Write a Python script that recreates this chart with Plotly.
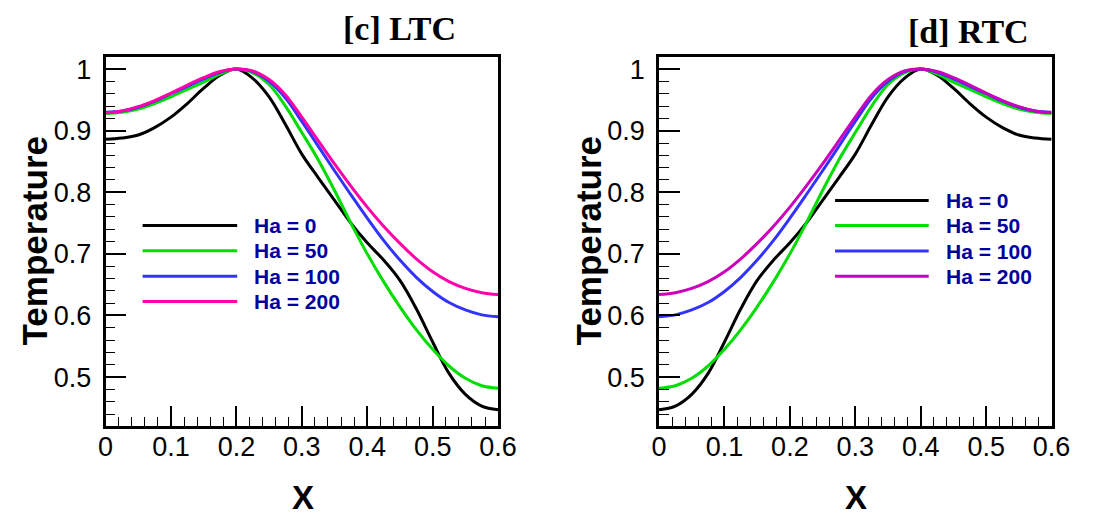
import plotly.graph_objects as go

# ---------------- data ----------------
x_vals = [0.0, 0.025, 0.05, 0.075, 0.1, 0.125, 0.15, 0.175, 0.2, 0.225, 0.25, 0.275,
          0.3, 0.325, 0.35, 0.375, 0.4, 0.425, 0.45, 0.475, 0.5, 0.525, 0.55, 0.575, 0.6]

# [c] LTC
ltc_ha0 = [0.886, 0.888, 0.893, 0.905, 0.922, 0.944, 0.969, 0.990, 1.000, 0.985, 0.955, 0.910,
           0.862, 0.824, 0.787, 0.750, 0.718, 0.690, 0.657, 0.611, 0.557, 0.506, 0.472, 0.453, 0.447]
ltc_ha50 = [0.928, 0.930, 0.935, 0.944, 0.955, 0.967, 0.979, 0.992, 1.000, 0.994, 0.975, 0.940,
            0.897, 0.853, 0.803, 0.750, 0.700, 0.655, 0.614, 0.577, 0.545, 0.518, 0.498, 0.486, 0.482]
ltc_ha100 = [0.930, 0.932, 0.938, 0.948, 0.960, 0.972, 0.984, 0.995, 1.000, 0.996, 0.980, 0.953,
             0.915, 0.875, 0.835, 0.796, 0.758, 0.722, 0.690, 0.662, 0.639, 0.621, 0.609, 0.601, 0.598]
ltc_ha200 = [0.929, 0.932, 0.939, 0.949, 0.961, 0.974, 0.986, 0.996, 1.000, 0.997, 0.983, 0.958,
             0.922, 0.884, 0.846, 0.810, 0.776, 0.745, 0.717, 0.692, 0.671, 0.655, 0.644, 0.637, 0.634]

# [d] RTC (mirror image of LTC about the centre of the cavity)
rtc_ha0 = [0.447, 0.453, 0.472, 0.506, 0.557, 0.611, 0.657, 0.690, 0.718, 0.750, 0.787, 0.824,
           0.862, 0.910, 0.955, 0.985, 1.000, 0.990, 0.969, 0.944, 0.922, 0.905, 0.893, 0.888, 0.886]
rtc_ha50 = [0.482, 0.486, 0.498, 0.518, 0.545, 0.577, 0.614, 0.655, 0.700, 0.750, 0.803, 0.853,
            0.897, 0.940, 0.975, 0.994, 1.000, 0.992, 0.979, 0.967, 0.955, 0.944, 0.935, 0.930, 0.928]
rtc_ha100 = [0.598, 0.601, 0.609, 0.621, 0.639, 0.662, 0.690, 0.722, 0.758, 0.796, 0.835, 0.875,
             0.915, 0.953, 0.980, 0.996, 1.000, 0.995, 0.984, 0.972, 0.960, 0.948, 0.938, 0.932, 0.930]
rtc_ha200 = [0.634, 0.637, 0.644, 0.655, 0.671, 0.692, 0.717, 0.745, 0.776, 0.810, 0.846, 0.884,
             0.922, 0.958, 0.983, 0.997, 1.000, 0.996, 0.986, 0.974, 0.961, 0.949, 0.939, 0.932, 0.929]

labels = ["Ha = 0", "Ha = 50", "Ha = 100", "Ha = 200"]
colors_ltc = ["#000000", "#00DD00", "#3333FF", "#FF00AA"]
colors_rtc = ["#000000", "#00DD00", "#3333FF", "#CC00BB"]

x_ticks = [0, 0.1, 0.2, 0.3, 0.4, 0.5, 0.6]
x_ticktext = ["0", "0.1", "0.2", "0.3", "0.4", "0.5", "0.6"]
y_ticks = [0.5, 0.6, 0.7, 0.8, 0.9, 1.0]
y_ticktext = ["0.5", "0.6", "0.7", "0.8", "0.9", "1"]

W, H = 1094, 519

fig = go.Figure()

panels = [
    ("x", "y", [ltc_ha0, ltc_ha50, ltc_ha100, ltc_ha200], colors_ltc),
    ("x2", "y2", [rtc_ha0, rtc_ha50, rtc_ha100, rtc_ha200], colors_rtc),
]
for xa, ya, series, cols in panels:
    for lab, ys, c in zip(labels, series, cols):
        fig.add_trace(go.Scatter(
            x=x_vals, y=ys, mode="lines", name=lab, xaxis=xa, yaxis=ya,
            line=dict(color=c, width=3, shape="spline", smoothing=1.0),
            showlegend=False, hoverinfo="skip"))

tick_font = dict(family="Liberation Sans, Arial", size=27, color="black")

def xaxis_cfg(domain):
    return dict(domain=domain, range=[0, 0.6], tickvals=x_ticks, ticktext=x_ticktext,
                ticks="inside", ticklen=21, tickwidth=2, tickcolor="black",
                minor=dict(dtick=0.02, tick0=0, ticks="inside", ticklen=10, tickwidth=1.3, tickcolor="black"),
                showline=True, mirror=True, linewidth=2.5, linecolor="black",
                showgrid=False, zeroline=False, tickfont=tick_font, ticklabelstandoff=-6,
                fixedrange=True)

def yaxis_cfg(domain, anchor):
    return dict(domain=domain, range=[0.42, 1.02], tickvals=y_ticks, ticktext=y_ticktext,
                ticks="inside", ticklen=21, tickwidth=2, tickcolor="black",
                minor=dict(dtick=0.02, tick0=0, ticks="inside", ticklen=10, tickwidth=1.3, tickcolor="black"),
                showline=True, mirror=True, linewidth=2.5, linecolor="black",
                showgrid=False, zeroline=False, tickfont=tick_font, ticklabelstandoff=6,
                anchor=anchor, fixedrange=True)

ydom = [1 - 426 / H, 1 - 55 / H]
fig.update_layout(
    width=W, height=H, margin=dict(l=0, r=0, t=0, b=0),
    paper_bgcolor="white", plot_bgcolor="white",
    xaxis=dict(**xaxis_cfg([100 / W, 502.5 / W]), anchor="y"),
    yaxis=yaxis_cfg(ydom, "x"),
    xaxis2=dict(**xaxis_cfg([667.5 / W, 1070 / W]), anchor="y2"),
    yaxis2=yaxis_cfg(ydom, "x2"),
)

annotations = []
shapes = []

def P(px, py):
    return px / W, 1 - py / H

# panel titles
for txt, cx, cy in [("[c] LTC", 401, 27), ("[d] RTC", 985, 30)]:
    ax_, ay_ = P(cx, cy)
    annotations.append(dict(text="<b>%s</b>" % txt, x=ax_, y=ay_, xref="paper", yref="paper",
                            showarrow=False, xanchor="center", yanchor="middle",
                            font=dict(family="Liberation Serif, Times New Roman", size=34, color="black")))
# axis titles
for cx in [27, 595]:
    ax_, ay_ = P(cx, 240)
    annotations.append(dict(text="<b>Temperature</b>", x=ax_, y=ay_, xref="paper", yref="paper",
                            showarrow=False, textangle=-90, xanchor="center", yanchor="middle",
                            font=dict(family="Liberation Sans, Arial", size=35, color="black")))
for cx in [302, 869]:
    ax_, ay_ = P(cx, 497)
    annotations.append(dict(text="<b>X</b>", x=ax_, y=ay_, xref="paper", yref="paper",
                            showarrow=False, xanchor="center", yanchor="middle",
                            font=dict(family="Liberation Sans, Arial", size=33, color="black")))

# custom legends
legend_specs = [
    (138, 235, 250.5, [224.3, 249.7, 275.3, 300.7], colors_ltc),
    (848, 944, 960, [199.3, 224.3, 250, 275.3], colors_rtc),
]
for lx0, lx1, tx, rows, cols in legend_specs:
    for lab, ry, c in zip(labels, rows, cols):
        x0, y0 = P(lx0, ry)
        x1, _ = P(lx1, ry)
        shapes.append(dict(type="line", xref="paper", yref="paper", x0=x0, x1=x1, y0=y0, y1=y0,
                           line=dict(color=c, width=3)))
        tx_, ty_ = P(tx, ry)
        annotations.append(dict(text="<b>%s</b>" % lab, x=tx_, y=ty_, xref="paper", yref="paper",
                                showarrow=False, xanchor="left", yanchor="middle",
                                font=dict(family="Liberation Sans, Arial", size=21, color="#0000A0")))

fig.update_layout(annotations=annotations, shapes=shapes)
fig.write_html("out.html")
